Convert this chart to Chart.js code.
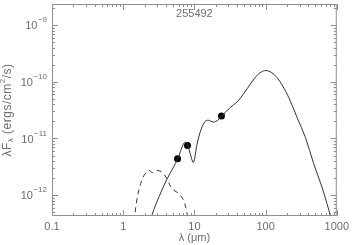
<!DOCTYPE html>
<html>
<head>
<meta charset="utf-8">
<script src="https://cdn.jsdelivr.net/npm/chart.js@4"></script>
<style>
  html, body { margin: 0; padding: 0; background: #fff; }
  #wrap { width: 353px; height: 245px; }
</style>
</head>
<body>
<div id="wrap"><canvas id="sedChart" width="353" height="245"></canvas></div>
<script>
// SED model curve (wavelength in um, lambda*F_lambda in ergs/cm^2/s)
const modelWave = [2.4, 2.7, 3.2, 4.1, 5.0, 5.85, 7.0, 7.6, 8.1, 8.8, 9.7, 10.8, 12.0, 14.1, 15.6, 17.0, 18.4, 20.0, 21.5, 23.9, 27.0, 31.3, 40.8, 48, 55, 62.5, 70, 77.4, 88, 101, 120, 147, 175, 213, 278, 363, 474, 619, 727, 807, 860];
const modelFlux = [3.6e-13, 5.6e-13, 9.5e-13, 1.9e-12, 3.0e-12, 4.4e-12, 8.0e-12, 8.6e-12, 7.6e-12, 5.2e-12, 3.8e-12, 7.5e-12, 1.27e-11, 2.0e-11, 2.1e-11, 2.02e-11, 1.95e-11, 2.0e-11, 2.12e-11, 2.45e-11, 2.85e-11, 3.45e-11, 4.55e-11, 5.9e-11, 7.5e-11, 9.5e-11, 1.15e-10, 1.33e-10, 1.5e-10, 1.58e-10, 1.47e-10, 1.16e-10, 8.3e-11, 5.2e-11, 2.32e-11, 1.04e-11, 3.6e-12, 1.4e-12, 7.2e-13, 4.5e-13, 3.3e-13];

// stellar photosphere (dashed)
const starWave = [1.42, 1.5, 1.58, 1.76, 1.96, 2.3, 2.55, 2.7, 2.99, 3.52, 4.12, 4.84, 6.0, 7.03, 7.82, 8.2];
const starFlux = [3.5e-13, 6.0e-13, 9.3e-13, 1.6e-12, 2.23e-12, 2.73e-12, 2.5e-12, 2.55e-12, 2.73e-12, 2.55e-12, 1.95e-12, 1.31e-12, 1.07e-12, 8.2e-13, 5.1e-13, 3.4e-13];

// photometry points
const obsWave = [5.8, 8.0, 24.0];
const obsFlux = [4.4e-12, 7.5e-12, 2.5e-11];

const chartTitle = '255492';
const xMajorTicks = [0.1, 1, 10, 100, 1000];
const xTickLabels = ['0.1', '1', '10', '100', '1000'];
const yMajorTicks = [1e-12, 1e-11, 1e-10, 1e-9];
const yTickExponents = ['\u221212', '\u221211', '\u221210', '\u22129'];
const xRange = [0.1, 1000];
const yRange = [4.3e-13, 2.35e-9];

const textColor = '#6e6e6e';
const frameColor = '#8f8f8f';
const lineColor = '#333333';
const fontFamily = '"Liberation Sans", Arial, sans-serif';

function withMinors(majors, lo, hi) {
  let out = [];
  majors.forEach(m => out.push({value: m, major: true}));
  for (let e = -14; e <= 4; e++) {
    for (let k = 2; k <= 9; k++) {
      let v = k * Math.pow(10, e);
      if (v > lo && v < hi) out.push({value: v, major: false});
    }
  }
  return out.sort((a, b) => a.value - b.value);
}

function toPoints(xs, ys) {
  return xs.map((x, i) => ({x: x, y: ys[i]}));
}

// frame, inward ticks, y labels with exponents, y title with sub/superscripts
const framePlugin = {
  id: 'framePlugin',
  afterDraw(chart) {
    const {ctx, chartArea: a, scales: {x, y}} = chart;
    ctx.save();
    ctx.strokeStyle = frameColor;
    ctx.lineWidth = 1;
    ctx.strokeRect(a.left + 0.5, a.top + 0.5, a.right - a.left - 1, a.bottom - a.top - 1);

    ctx.beginPath();
    x.ticks.forEach(t => {
      let px = Math.round(x.getPixelForValue(t.value)) + 0.5;
      let len = t.major ? 6 : 3;
      ctx.moveTo(px, a.bottom); ctx.lineTo(px, a.bottom - len);
      ctx.moveTo(px, a.top); ctx.lineTo(px, a.top + len);
    });
    y.ticks.forEach(t => {
      let py = Math.round(y.getPixelForValue(t.value)) + 0.5;
      let len = t.major ? 6 : 3;
      ctx.moveTo(a.left, py); ctx.lineTo(a.left + len, py);
      ctx.moveTo(a.right, py); ctx.lineTo(a.right - len, py);
    });
    ctx.stroke();

    // y tick labels
    ctx.fillStyle = textColor;
    ctx.textBaseline = 'middle';
    yMajorTicks.forEach((v, i) => {
      let py = y.getPixelForValue(v);
      ctx.font = '8px ' + fontFamily;
      let expW = ctx.measureText(yTickExponents[i]).width;
      let right = a.left - 5;
      ctx.textAlign = 'right';
      ctx.fillText(yTickExponents[i], right, py - 5);
      ctx.font = '11px ' + fontFamily;
      ctx.fillText('10', right - expW - 0.5, py + 1);
    });

    // y axis title
    ctx.translate(8, (a.top + a.bottom) / 2);
    ctx.rotate(-Math.PI / 2);
    ctx.textAlign = 'left';
    ctx.textBaseline = 'middle';
    ctx.letterSpacing = '0.5px';
    let parts = [
      ['\u03bbF', 12, 0], ['\u03bb', 8, 3], [' (ergs/cm', 12, 0], ['2', 8, -5], ['/s)', 12, 0]
    ];
    let total = 0;
    parts.forEach(p => { ctx.font = p[1] + 'px ' + fontFamily; total += ctx.measureText(p[0]).width; });
    let cx = -total / 2;
    parts.forEach(p => {
      ctx.font = p[1] + 'px ' + fontFamily;
      ctx.fillText(p[0], cx, p[2]);
      cx += ctx.measureText(p[0]).width;
    });
    ctx.restore();
  }
};

const sedChart = new Chart(document.getElementById('sedChart'), {
  type: 'scatter',
  data: {
    datasets: [
      {
        label: 'model',
        data: toPoints(modelWave, modelFlux),
        showLine: true,
        borderColor: lineColor,
        borderWidth: 1,
        pointRadius: 0,
        tension: 0.35
      },
      {
        label: 'star',
        data: toPoints(starWave, starFlux),
        showLine: true,
        borderColor: lineColor,
        borderWidth: 1,
        borderDash: [5, 4],
        pointRadius: 0,
        tension: 0.35
      },
      {
        label: 'obs',
        data: toPoints(obsWave, obsFlux),
        showLine: false,
        pointRadius: 3.5,
        pointBackgroundColor: '#000',
        pointBorderColor: '#000',
        borderWidth: 0
      }
    ]
  },
  options: {
    responsive: false,
    animation: false,
    layout: { padding: { top: 2, right: 13, left: 0, bottom: 0 } },
    plugins: {
      legend: { display: false },
      tooltip: { enabled: false },
      title: { display: false }
    },
    scales: {
      x: {
        type: 'logarithmic',
        min: xRange[0],
        max: xRange[1],
        afterBuildTicks: s => { s.ticks = withMinors(xMajorTicks, xRange[0], xRange[1]); },
        afterFit: s => { s.height = 29; },
        grid: { display: false, drawTicks: false },
        border: { display: false },
        ticks: {
          padding: 4,
          autoSkip: false,
          maxRotation: 0,
          color: textColor,
          font: { size: 11, family: fontFamily },
          callback: function (value) {
            let i = xMajorTicks.findIndex(m => Math.abs(m - value) / m < 1e-6);
            return i >= 0 ? xTickLabels[i] : '';
          }
        },
        title: {
          display: true,
          text: '\u03bb (\u03bcm)',
          color: textColor,
          font: { size: 11, family: fontFamily },
          padding: { top: 0, bottom: 0 }
        }
      },
      y: {
        type: 'logarithmic',
        min: yRange[0],
        max: yRange[1],
        afterBuildTicks: s => { s.ticks = withMinors(yMajorTicks, yRange[0], yRange[1]); },
        afterFit: s => { s.width = 52; },
        grid: { display: false, drawTicks: false },
        border: { display: false },
        ticks: { display: false }
      }
    }
  },
  plugins: [framePlugin, {
    id: 'plotTitle',
    afterDraw(chart) {
      const {ctx, chartArea: a} = chart;
      ctx.save();
      ctx.fillStyle = textColor;
      ctx.font = '11px ' + fontFamily;
      ctx.textAlign = 'center';
      ctx.textBaseline = 'middle';
      ctx.fillText(chartTitle, (a.left + a.right) / 2, 14);
      ctx.restore();
    }
  }]
});
</script>
</body>
</html>
